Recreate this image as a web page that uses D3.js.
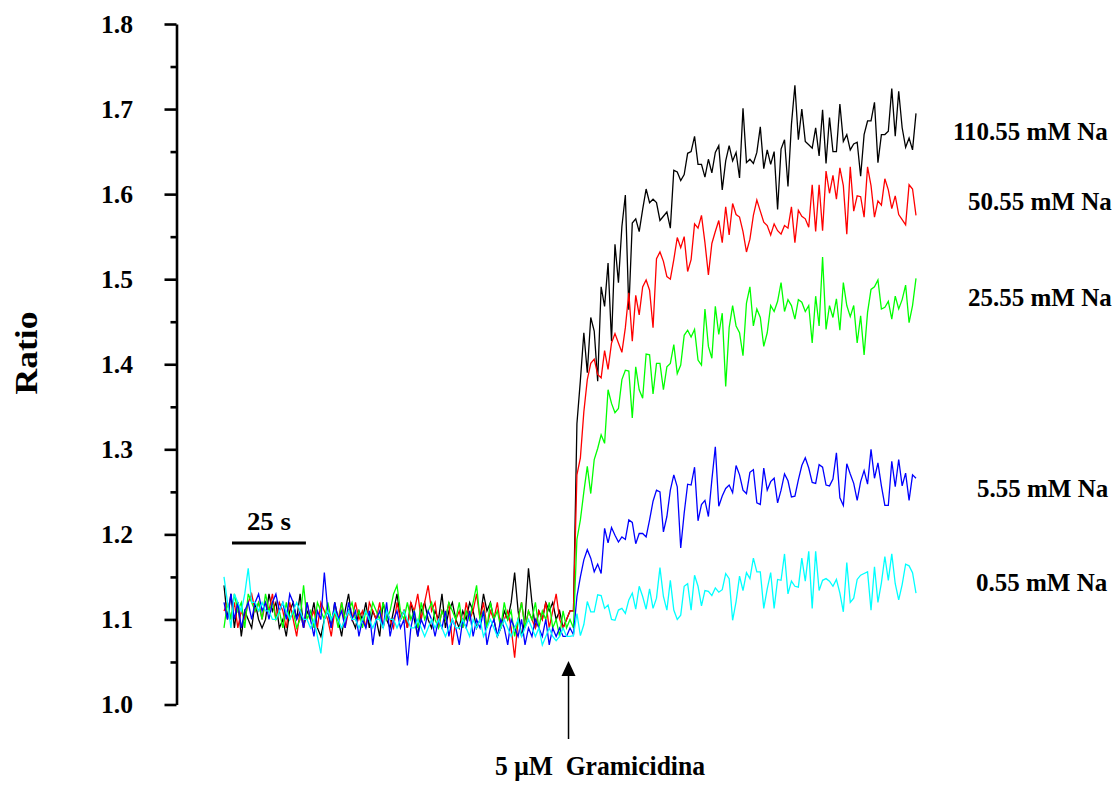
<!DOCTYPE html>
<html>
<head>
<meta charset="utf-8">
<script src="https://cdn.jsdelivr.net/npm/d3@7"></script>
<style>
  html, body { margin: 0; padding: 0; background: #fff; }
  svg { display: block; font-family: 'Liberation Serif', 'Times New Roman', serif; font-weight: bold; }
</style>
</head>
<body>
<svg id="chart" width="1119" height="791"></svg>
<script>
// sampling interval of the traces (s)
const dt = 1.17;

// Ratio traces, one value per sample
const na110 = [
  1.14, 1.10, 1.13, 1.09, 1.12, 1.08, 1.11, 1.10, 1.09, 1.12,
  1.10, 1.09, 1.10, 1.13, 1.11, 1.12, 1.09, 1.10, 1.08, 1.11,
  1.12, 1.10, 1.13, 1.09, 1.11, 1.10, 1.12, 1.09, 1.08, 1.10,
  1.11, 1.09, 1.12, 1.10, 1.08, 1.11, 1.13, 1.10, 1.09, 1.11,
  1.10, 1.12, 1.09, 1.11, 1.10, 1.08, 1.12, 1.10, 1.09, 1.11,
  1.13, 1.10, 1.11, 1.09, 1.12, 1.10, 1.08, 1.11, 1.12, 1.10,
  1.09, 1.11, 1.10, 1.13, 1.09, 1.11, 1.12, 1.10, 1.09, 1.11,
  1.10, 1.12, 1.11, 1.09, 1.10, 1.13, 1.11, 1.12, 1.10, 1.08,
  1.09, 1.11, 1.10, 1.12, 1.155, 1.11, 1.08, 1.10, 1.16, 1.12,
  1.09, 1.11, 1.10, 1.12, 1.11, 1.12, 1.10, 1.11, 1.09, 1.10,
  1.11,
  1.11, 1.33,
  1.381, 1.437, 1.39, 1.455, 1.439, 1.38, 1.491, 1.468, 1.519, 1.427,
  1.541, 1.496, 1.562, 1.599, 1.464, 1.566, 1.571, 1.556, 1.582, 1.606,
  1.59, 1.594, 1.590, 1.569, 1.574, 1.579, 1.560, 1.628, 1.626, 1.616,
  1.623, 1.648, 1.650, 1.668, 1.635, 1.635, 1.620, 1.641, 1.625, 1.649,
  1.657, 1.605, 1.639, 1.657, 1.639, 1.649, 1.619,
  1.701, 1.637, 1.641, 1.636, 1.649, 1.679, 1.630, 1.652, 1.635, 1.650,
  1.582, 1.653, 1.664, 1.609, 1.682, 1.728, 1.664, 1.700, 1.662, 1.658,
  1.654, 1.678, 1.645, 1.699, 1.636, 1.690, 1.650, 1.650, 1.706, 1.662,
  1.670, 1.652, 1.659, 1.661, 1.621, 1.670, 1.686, 1.686, 1.708, 1.637,
  1.670, 1.670, 1.674, 1.724, 1.668, 1.721, 1.678, 1.655, 1.666, 1.652,
  1.695
];
const na50 = [
  1.11, 1.12, 1.10, 1.12, 1.09, 1.11, 1.10, 1.12, 1.13, 1.11,
  1.12, 1.10, 1.12, 1.11, 1.13, 1.10, 1.12, 1.11, 1.09, 1.12,
  1.10, 1.08, 1.11, 1.09, 1.12, 1.10, 1.11, 1.09, 1.12, 1.11,
  1.10, 1.08, 1.11, 1.10, 1.12, 1.09, 1.11, 1.10, 1.12, 1.10,
  1.11, 1.09, 1.12, 1.11, 1.10, 1.12, 1.09, 1.11, 1.10, 1.09,
  1.12, 1.10, 1.11, 1.09, 1.12, 1.11, 1.13, 1.10, 1.12, 1.14,
  1.11, 1.12, 1.09, 1.11, 1.10, 1.12, 1.07, 1.10, 1.11, 1.09,
  1.12, 1.10, 1.11, 1.13, 1.10, 1.12, 1.09, 1.11, 1.10, 1.12,
  1.09, 1.10, 1.11, 1.09, 1.055, 1.10, 1.12, 1.09, 1.11, 1.10,
  1.09, 1.11, 1.10, 1.12, 1.09, 1.11, 1.13, 1.10, 1.09, 1.10,
  1.11,
  1.11, 1.27, 1.29, 1.344, 1.382,
  1.401, 1.406, 1.388, 1.384, 1.416, 1.394, 1.425, 1.436, 1.425, 1.414,
  1.443, 1.484, 1.427, 1.481, 1.458, 1.491, 1.499, 1.487, 1.443, 1.524,
  1.532, 1.521, 1.503, 1.500, 1.523, 1.549, 1.537, 1.550, 1.509, 1.523,
  1.565, 1.560, 1.575, 1.543, 1.505, 1.542, 1.556, 1.569, 1.543, 1.585,
  1.552, 1.589, 1.576, 1.573,
  1.556, 1.532, 1.547, 1.575, 1.593, 1.580, 1.567, 1.563, 1.552, 1.565,
  1.557, 1.553, 1.563, 1.560, 1.585, 1.543, 1.581, 1.574, 1.571, 1.561,
  1.611, 1.556, 1.611, 1.557, 1.627, 1.601, 1.622, 1.594, 1.631, 1.610,
  1.553, 1.632, 1.580, 1.598, 1.597, 1.573, 1.632, 1.610, 1.573, 1.592,
  1.587, 1.618, 1.605, 1.583, 1.598, 1.576, 1.570, 1.564, 1.611, 1.606,
  1.575
];
const na25 = [
  1.09, 1.12, 1.10, 1.13, 1.11, 1.12, 1.09, 1.13, 1.12, 1.11,
  1.12, 1.10, 1.13, 1.11, 1.12, 1.10, 1.11, 1.09, 1.12, 1.10,
  1.11, 1.09, 1.10, 1.14, 1.10, 1.11, 1.09, 1.12, 1.11, 1.10,
  1.12, 1.10, 1.11, 1.09, 1.12, 1.10, 1.11, 1.12, 1.10, 1.11,
  1.09, 1.11, 1.10, 1.12, 1.11, 1.10, 1.12, 1.10, 1.11, 1.13,
  1.14, 1.11, 1.10, 1.12, 1.10, 1.11, 1.09, 1.12, 1.10, 1.11,
  1.12, 1.10, 1.09, 1.11, 1.10, 1.12, 1.11, 1.10, 1.12, 1.09,
  1.11, 1.10, 1.12, 1.14, 1.10, 1.11, 1.09, 1.12, 1.10, 1.11,
  1.09, 1.12, 1.10, 1.11, 1.08, 1.10, 1.12, 1.09, 1.11, 1.10,
  1.12, 1.09, 1.11, 1.10, 1.12, 1.09, 1.10, 1.08, 1.11, 1.09,
  1.10,
  1.09,
  1.194, 1.217, 1.25, 1.28, 1.248, 1.288, 1.301, 1.317, 1.307, 1.370,
  1.354, 1.343, 1.348,
  1.382, 1.393, 1.392, 1.337, 1.397, 1.37, 1.36, 1.412, 1.411, 1.365,
  1.401, 1.401, 1.37, 1.397, 1.401, 1.423, 1.389, 1.399, 1.434, 1.440,
  1.432, 1.441, 1.405, 1.399, 1.465, 1.421, 1.407, 1.468, 1.435, 1.460,
  1.374, 1.443, 1.469, 1.445, 1.437,
  1.410, 1.472, 1.491, 1.445, 1.465, 1.455, 1.421, 1.437, 1.469, 1.462,
  1.474, 1.496, 1.462, 1.476, 1.469, 1.453, 1.476, 1.473, 1.462, 1.469,
  1.425, 1.480, 1.445, 1.526, 1.441, 1.469, 1.455, 1.477, 1.440, 1.496,
  1.469, 1.456, 1.469, 1.425, 1.457, 1.411, 1.461, 1.488, 1.491, 1.499,
  1.465, 1.467, 1.474, 1.453, 1.480, 1.465, 1.476, 1.493, 1.449, 1.469,
  1.501
];
const na5 = [
  1.12, 1.10, 1.13, 1.10, 1.12, 1.09, 1.11, 1.12, 1.10, 1.12,
  1.13, 1.11, 1.12, 1.10, 1.12, 1.13, 1.11, 1.12, 1.10, 1.13,
  1.12, 1.10, 1.11, 1.09, 1.12, 1.10, 1.08, 1.11, 1.10, 1.155,
  1.11, 1.09, 1.12, 1.10, 1.11, 1.09, 1.12, 1.10, 1.11, 1.08,
  1.10, 1.09, 1.11, 1.07, 1.10, 1.11, 1.09, 1.12, 1.08, 1.10,
  1.11, 1.09, 1.10, 1.046, 1.09, 1.11, 1.08, 1.10, 1.09, 1.11,
  1.10, 1.08, 1.10, 1.09, 1.11, 1.08, 1.10, 1.09, 1.07, 1.10,
  1.09, 1.11, 1.08, 1.10, 1.09, 1.11, 1.07, 1.09, 1.10, 1.08,
  1.10, 1.09, 1.07, 1.10, 1.09, 1.08, 1.10, 1.07, 1.09, 1.08,
  1.10, 1.09, 1.08, 1.10, 1.07, 1.09, 1.08, 1.09, 1.08, 1.08,
  1.09,
  1.082,
  1.127, 1.150, 1.170, 1.182, 1.172, 1.156, 1.165, 1.154, 1.207, 1.190,
  1.208, 1.199, 1.191, 1.197, 1.194, 1.217, 1.214, 1.189, 1.201, 1.201,
  1.197, 1.217, 1.239, 1.252, 1.250, 1.203, 1.221, 1.252, 1.270, 1.256,
  1.184, 1.225, 1.259, 1.258, 1.279, 1.216, 1.235, 1.240, 1.221, 1.264,
  1.303, 1.233, 1.245, 1.254, 1.258, 1.249, 1.281, 1.270,
  1.252, 1.248, 1.273, 1.276, 1.237, 1.235, 1.278, 1.252, 1.262, 1.266,
  1.237, 1.252, 1.271, 1.263, 1.244, 1.245, 1.264, 1.281, 1.290, 1.278,
  1.261, 1.260, 1.282, 1.279, 1.258, 1.257, 1.265, 1.296, 1.243, 1.234,
  1.283, 1.271, 1.260, 1.240, 1.262, 1.275, 1.259, 1.300, 1.266, 1.284,
  1.257, 1.234, 1.234, 1.286, 1.256, 1.288, 1.257, 1.272, 1.240, 1.270,
  1.266
];
const na055 = [
  1.15, 1.12, 1.09, 1.13, 1.12, 1.11, 1.13, 1.16, 1.12, 1.12,
  1.11, 1.12, 1.11, 1.11, 1.10, 1.10, 1.11, 1.12, 1.11, 1.10,
  1.11, 1.12, 1.11, 1.10, 1.10, 1.09, 1.10, 1.08, 1.06, 1.10,
  1.11, 1.10, 1.11, 1.10, 1.09, 1.10, 1.11, 1.10, 1.10, 1.09,
  1.10, 1.11, 1.10, 1.09, 1.10, 1.10, 1.09, 1.11, 1.10, 1.10,
  1.09, 1.10, 1.11, 1.10, 1.09, 1.09, 1.10, 1.09, 1.08, 1.09,
  1.10, 1.09, 1.10, 1.09, 1.08, 1.09, 1.10, 1.09, 1.09, 1.10,
  1.09, 1.08, 1.10, 1.09, 1.10, 1.08, 1.09, 1.10, 1.09, 1.08,
  1.09, 1.10, 1.09, 1.08, 1.09, 1.10, 1.08, 1.09, 1.10, 1.09,
  1.08, 1.09, 1.07, 1.08, 1.09, 1.08, 1.075, 1.08, 1.09, 1.08,
  1.08,
  1.081,
  1.107, 1.081, 1.094, 1.121, 1.109, 1.109, 1.129, 1.128, 1.113, 1.117,
  1.100, 1.099, 1.111, 1.113, 1.107, 1.123, 1.131, 1.112, 1.139, 1.127,
  1.112, 1.136, 1.113, 1.125, 1.161, 1.127, 1.111, 1.146, 1.111, 1.100,
  1.105, 1.139, 1.142, 1.111, 1.152, 1.139, 1.116, 1.134, 1.133, 1.128,
  1.137, 1.132, 1.135, 1.154, 1.148, 1.099, 1.121, 1.151,
  1.134, 1.155, 1.148, 1.172, 1.156, 1.156, 1.113, 1.136, 1.155, 1.113,
  1.147, 1.146, 1.177, 1.130, 1.145, 1.139, 1.138, 1.172, 1.145, 1.180,
  1.113, 1.180, 1.134, 1.146, 1.148, 1.145, 1.139, 1.147, 1.131, 1.109,
  1.167, 1.120, 1.125, 1.147, 1.152, 1.154, 1.156, 1.111, 1.162, 1.120,
  1.143, 1.174, 1.146, 1.177, 1.142, 1.123, 1.141, 1.165, 1.163, 1.155,
  1.131
];

const seriesValues = [na110, na50, na25, na5, na055];
const seriesNames = ['110.55 mM Na', '50.55 mM Na', '25.55 mM Na', '5.55 mM Na', '0.55 mM Na'];
const seriesColors = ['#000000', '#ff0000', '#00ff00', '#0000ff', '#00ffff'];

const yTicks = [1.0, 1.1, 1.2, 1.3, 1.4, 1.5, 1.6, 1.7, 1.8];
const yMinorTicks = [1.05, 1.15, 1.25, 1.35, 1.45, 1.55, 1.65, 1.75];

const gramicidinTime = 116.5;   // s, addition of gramicidin
const scaleBarStart = 2.7;      // s
const scaleBarLength = 25;      // s

// label placement (left x, baseline y)
const labelLayout = [
  { x: 953, y: 140 },
  { x: 968, y: 210 },
  { x: 968, y: 306 },
  { x: 977, y: 497 },
  { x: 976, y: 591 }
];

const svg = d3.select('#chart');
const W = 1119, H = 791;

const margins = { left: 176.5, top: 24, bottom: 86.5 };
const h = H - margins.top - margins.bottom;

const nSamples = na110.length;
const tEnd = (nSamples - 1) * dt;

const xScale = d3.scaleLinear()
  .domain([0, tEnd])
  .range([224 - margins.left, 916 - margins.left]);

const yScale = d3.scaleLinear()
  .domain([1.0, 1.8])
  .range([h, 0]);

const chartGroup = svg.append('g')
  .attr('transform', `translate(${margins.left},${margins.top})`);

// y axis, major ticks
const yAxis = d3.axisLeft(yScale)
  .tickValues(yTicks)
  .tickSize(12)
  .tickSizeOuter(0)
  .tickPadding(31.5)
  .tickFormat(d3.format('.1f'));

const yAxisG = chartGroup.append('g')
  .classed('axis y', true)
  .call(yAxis);

yAxisG.select('.domain')
  .attr('stroke', '#000')
  .attr('stroke-width', 2.6);
yAxisG.selectAll('.tick line')
  .attr('stroke', '#000')
  .attr('stroke-width', 2.6);
yAxisG.selectAll('.tick text')
  .attr('fill', '#000')
  .style('font-family', "'Liberation Serif', 'Times New Roman', serif")
  .style('font-weight', 'bold')
  .style('font-size', '25px')
  .attr('textLength', 32)
  .attr('lengthAdjust', 'spacingAndGlyphs');

// minor ticks
const yMinorAxis = d3.axisLeft(yScale)
  .tickValues(yMinorTicks)
  .tickSize(6)
  .tickSizeOuter(0)
  .tickFormat('');
const yMinorG = chartGroup.append('g')
  .classed('axis y minor', true)
  .call(yMinorAxis);
yMinorG.select('.domain').remove();
yMinorG.selectAll('.tick line')
  .attr('stroke', '#000')
  .attr('stroke-width', 2.6);

// traces
const line = d3.line()
  .x((d, i) => xScale(i * dt))
  .y(d => yScale(d));

chartGroup.selectAll('path.trace')
  .data(seriesValues)
  .enter()
  .append('path')
  .classed('trace', true)
  .attr('d', d => line(d))
  .attr('fill', 'none')
  .attr('stroke', (d, i) => seriesColors[i])
  .attr('stroke-width', 1.3)
  .attr('stroke-linejoin', 'miter');

// series labels
svg.selectAll('text.serie')
  .data(seriesNames)
  .enter()
  .append('text')
  .classed('serie', true)
  .attr('x', (d, i) => labelLayout[i].x)
  .attr('y', (d, i) => labelLayout[i].y)
  .style('font-size', '25px')
  .attr('fill', '#000')
  .text(d => d);

// y label
svg.append('text')
  .attr('transform', 'translate(37,353) rotate(-90)')
  .attr('text-anchor', 'middle')
  .attr('textLength', 83)
  .attr('lengthAdjust', 'spacingAndGlyphs')
  .style('font-size', '31px')
  .text('Ratio');

// 25 s scale bar
const barY = 543 - margins.top;
chartGroup.append('line')
  .attr('x1', xScale(scaleBarStart))
  .attr('x2', xScale(scaleBarStart + scaleBarLength))
  .attr('y1', barY)
  .attr('y2', barY)
  .attr('stroke', '#000')
  .attr('stroke-width', 3);
chartGroup.append('text')
  .attr('x', xScale(scaleBarStart + scaleBarLength / 2))
  .attr('y', barY - 13)
  .attr('text-anchor', 'middle')
  .attr('textLength', 44)
  .attr('lengthAdjust', 'spacingAndGlyphs')
  .style('font-size', '25px')
  .text('25 s');

// gramicidin arrow
const ax = xScale(gramicidinTime);
chartGroup.append('line')
  .attr('x1', ax).attr('x2', ax)
  .attr('y1', 739 - margins.top)
  .attr('y2', 674 - margins.top)
  .attr('stroke', '#000')
  .attr('stroke-width', 1.5);
chartGroup.append('path')
  .attr('d', `M${ax},${661 - margins.top} L${ax - 7},${676 - margins.top} L${ax + 7},${676 - margins.top} Z`)
  .attr('fill', '#000');
chartGroup.append('text')
  .attr('x', ax + 31.5)
  .attr('y', 775 - margins.top)
  .attr('text-anchor', 'middle')
  .attr('textLength', 210)
  .attr('lengthAdjust', 'spacingAndGlyphs')
  .style('white-space', 'pre')
  .style('font-size', '27px')
  .text('5 \u03bcM  Gramicidina');
</script>
</body>
</html>
